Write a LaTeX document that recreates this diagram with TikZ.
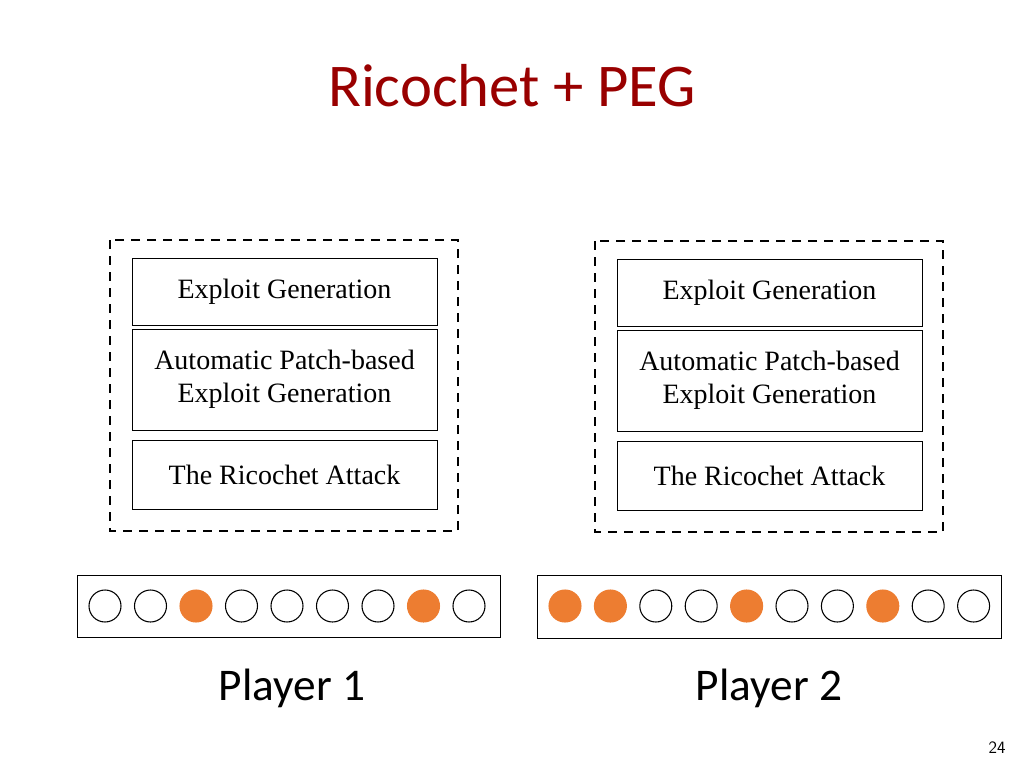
\documentclass[tikz,border=0pt]{standalone}
\usepackage{fontspec}
\setmainfont{Liberation Serif}
\newfontfamily\titlefont{Carlito}
\definecolor{titlered}{HTML}{990000}
\definecolor{dotorange}{HTML}{ED7D31}
\tikzset{
    layer/.style={draw, rectangle, minimum width=229pt, inner sep=0pt, align=center, font=\fontsize{21}{25}\selectfont},
    frame/.style={draw, dashed, line width=1.5pt, dash pattern=on 7pt off 5pt},
    slot/.style={draw, circle, line width=0.8pt, minimum size=24pt, inner sep=0pt},
    hit/.style={slot, draw=dotorange, fill=dotorange}
}
\begin{document}
\begin{tikzpicture}[x=0.75pt, y=-0.75pt]
    \useasboundingbox (0,0) rectangle (1024,768);
    % Title
    \node[font=\titlefont\fontsize{45.5}{52}\selectfont, text=titlered] (title) at (512,86) {Ricochet + PEG};

    % Player stacks
    \foreach \p/\dx/\dy in {L/0/0, R/485/1} {
        \draw[frame] (110+\dx,240+\dy) rectangle (458+\dx,531+\dy);
        \node[layer, minimum height=50pt] (EG\p) at (284.5+\dx,291.5+\dy) {Exploit Generation};
        \node[layer, minimum height=76pt] (APEG\p) at (284.5+\dx,379.5+\dy) {Automatic Patch-based\\Exploit Generation};
        \node[layer, minimum height=52pt] (RA\p) at (284.5+\dx,474.5+\dy) {The Ricochet Attack};
    }

    % Strips
    \draw (77,575) rectangle (500,637);
    \foreach \i [count=\k] in {0,...,8} {
        \ifnum\k=3 \def\st{hit}\else\ifnum\k=8 \def\st{hit}\else\def\st{slot}\fi\fi
        \node[\st] (a\k) at (105+45.5*\i,606) {};
    }
    \draw (537,575) rectangle (1001,638);
    \foreach \i [count=\k] in {0,...,9} {
        \def\st{slot}
        \ifnum\k=1 \def\st{hit}\fi
        \ifnum\k=2 \def\st{hit}\fi
        \ifnum\k=5 \def\st{hit}\fi
        \ifnum\k=8 \def\st{hit}\fi
        \node[\st] (b\k) at (565+45.4*\i,606) {};
    }

    % Labels
    \node[font=\titlefont\fontsize{34}{40}\selectfont] (P1) at (292,688) {Player 1};
    \node[font=\titlefont\fontsize{34}{40}\selectfont] (P2) at (769,688) {Player 2};
    \node[font=\sffamily\fontsize{13}{15}\selectfont] (page) at (997,748) {24};
\end{tikzpicture}
\end{document}
